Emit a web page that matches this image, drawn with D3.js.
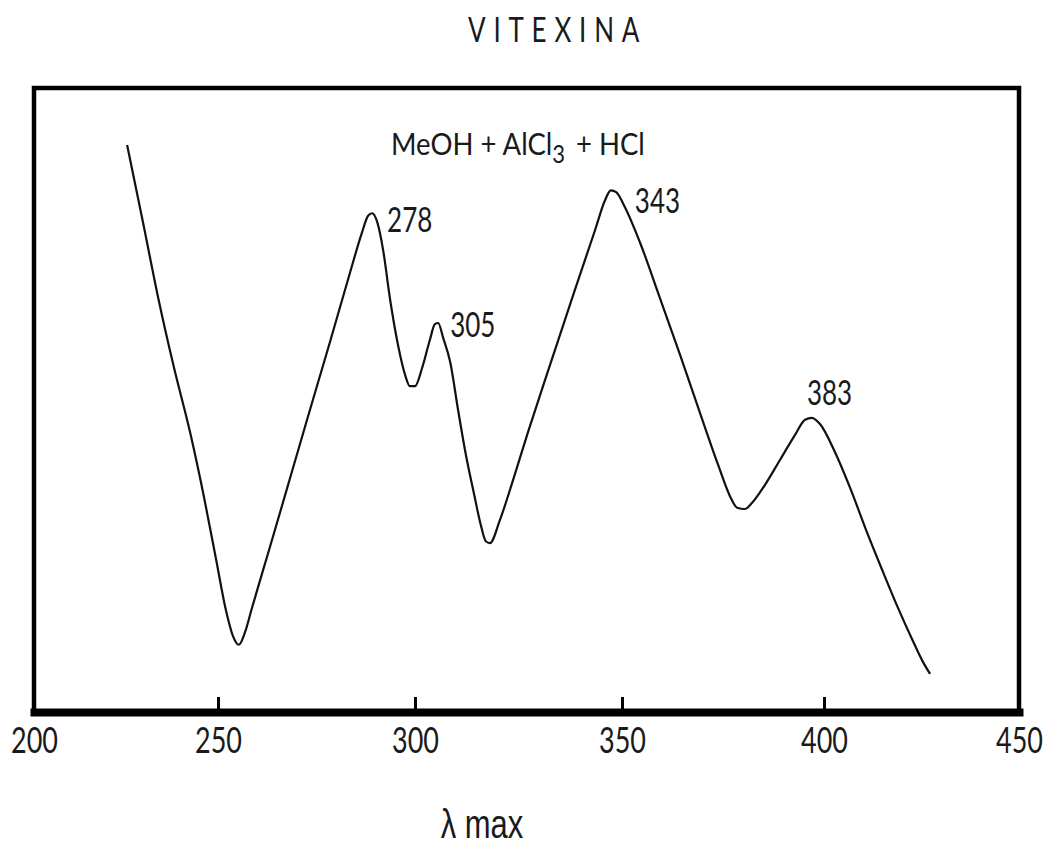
<!DOCTYPE html>
<html>
<head>
<meta charset="utf-8">
<script src="https://cdn.jsdelivr.net/npm/d3@7"></script>
<style>
  body { margin: 0; background: #fff; }
  svg { display: block; }
</style>
</head>
<body>
<script>
// UV spectrum of vitexin
var title = "VITEXINA",
    xLabel = "\u03bb max";

var xTicks = [200, 250, 300, 350, 400, 450];

var wavelength = [225.3, 229.6, 233.7, 238.0, 242.4, 246.2, 249.5, 252.0, 253.8, 255.3,
                  256.9, 258.6, 263.2, 268.3, 272.6, 278.4, 283.5, 286.5, 288.1, 289.1,
                  290.4, 291.9, 293.7, 295.7, 297.5, 298.7, 300.0, 301.7, 303.6, 304.8,
                  305.6, 306.8, 308.5, 310.4, 312.3, 314.3, 315.9, 317.1, 318.1,
                  320.5, 323.7, 327.3, 332.6, 338.6, 343.5, 345.9, 347.3, 348.6,
                  350.7, 354.5, 359.4, 364.4, 369.3, 373.8, 376.7, 378.5,
                  380.4, 382.2, 385.4, 389.1, 392.8, 395.3, 397.0,
                  399.0, 402.8, 406.7, 410.8, 414.9, 419.0, 422.8, 425.4, 427.2];

var absorbance = [0.908, 0.784, 0.663, 0.550, 0.445, 0.340, 0.239, 0.158, 0.116, 0.102,
                  0.123, 0.161, 0.260, 0.371, 0.465, 0.590, 0.702, 0.766, 0.794, 0.798,
                  0.784, 0.739, 0.658, 0.585, 0.537, 0.519, 0.519, 0.548, 0.594, 0.619,
                  0.621, 0.597, 0.558, 0.481, 0.408, 0.344, 0.295, 0.269, 0.266,
                  0.303, 0.368, 0.445, 0.553, 0.674, 0.771, 0.819, 0.835, 0.832,
                  0.808, 0.750, 0.661, 0.569, 0.476, 0.392, 0.342, 0.323,
                  0.321, 0.331, 0.360, 0.400, 0.440, 0.465, 0.468,
                  0.458, 0.413, 0.355, 0.287, 0.223, 0.161, 0.108, 0.074, 0.055];

var peakLabels = ["278", "305", "343", "383"];

var width = 1043,
    height = 849,
    stretch = 1.33;   // the scan's lettering is tall and narrow

var svg = d3.select("body").append("svg")
    .attr("width", width)
    .attr("height", height);

// the hand-drawn axis is not quite even, so map each tick to where it sits
var x = d3.scaleLinear()
    .domain(xTicks)
    .range([34, 218, 415, 622, 824, 1019]);

var y = d3.scaleLinear()
    .domain([0, 1])
    .range([708, 88]);

function tallText(sel, px, py, k) {
    return sel.attr("x", 0).attr("y", 0)
        .attr("transform", "translate(" + px + "," + py + ") scale(1," + (k || stretch) + ")");
}

// frame
svg.append("rect")
    .attr("x", 34)
    .attr("y", 88)
    .attr("width", 985)
    .attr("height", 624)
    .attr("fill", "none")
    .attr("stroke", "#000")
    .attr("stroke-width", 4.5);

// x axis: thick base line, ticks pointing up
var xAxis = svg.append("g")
    .attr("transform", "translate(0,712)")
    .call(d3.axisBottom(x).tickValues(xTicks).tickSizeInner(-15).tickSizeOuter(0));

xAxis.select(".domain")
    .attr("stroke", "#000")
    .attr("stroke-width", 8)
    .attr("stroke-linecap", "square");

xAxis.selectAll(".tick line")
    .attr("stroke", "#000")
    .attr("stroke-width", 3);

xAxis.selectAll(".tick text")
    .attr("dy", null)
    .attr("fill", "#1a1a1a")
    .style("font-family", "Lato, sans-serif")
    .style("font-size", "27px")
    .attr("text-anchor", "middle")
    .each(function () { tallText(d3.select(this), 0, 41); });

// spectrum
var pts = wavelength.map(function (w, i) { return [w, absorbance[i]]; });

var line = d3.line()
    .x(function (d) { return x(d[0]); })
    .y(function (d) { return y(d[1]); })
    .curve(d3.curveMonotoneX);

svg.append("path")
    .datum(pts)
    .attr("fill", "none")
    .attr("stroke", "#111")
    .attr("stroke-width", 2.2)
    .attr("d", line);

// peak labels at the local maxima
var peaks = pts.filter(function (d, i) {
    return i > 0 && i < pts.length - 1 && d[1] > pts[i - 1][1] && d[1] > pts[i + 1][1];
});
var labelOffsets = [[15, 19], [12, 14], [24, 23], [-5, -13]];

peaks.forEach(function (d, i) {
    svg.append("text")
        .call(tallText, x(d[0]) + labelOffsets[i][0], y(d[1]) + labelOffsets[i][1])
        .attr("fill", "#1a1a1a")
        .style("font-family", "Lato, sans-serif")
        .style("font-size", "26px")
        .text(peakLabels[i]);
});

// title
svg.append("text")
    .call(tallText, 468, 42)
    .attr("fill", "#1a1a1a")
    .style("font-family", "Lato, sans-serif")
    .style("font-size", "26px")
    .style("letter-spacing", "7.8px")
    .text(title);

// reagent line
var reagent = svg.append("text")
    .call(tallText, 391, 155, 1.15)
    .attr("fill", "#1a1a1a")
    .style("font-family", "Lato, sans-serif")
    .style("font-size", "27.5px");
reagent.append("tspan").text("MeOH + AlCl");
reagent.append("tspan").attr("dy", 7).style("font-size", "22px").text("3");
reagent.append("tspan").attr("dy", -7).attr("dx", 11).text("+ HCl");

// axis title
svg.append("text")
    .call(tallText, 482, 838)
    .attr("fill", "#1a1a1a")
    .attr("text-anchor", "middle")
    .style("font-family", "'Liberation Sans', Arial, sans-serif")
    .style("font-size", "31px")
    .text(xLabel);
</script>
</body>
</html>
